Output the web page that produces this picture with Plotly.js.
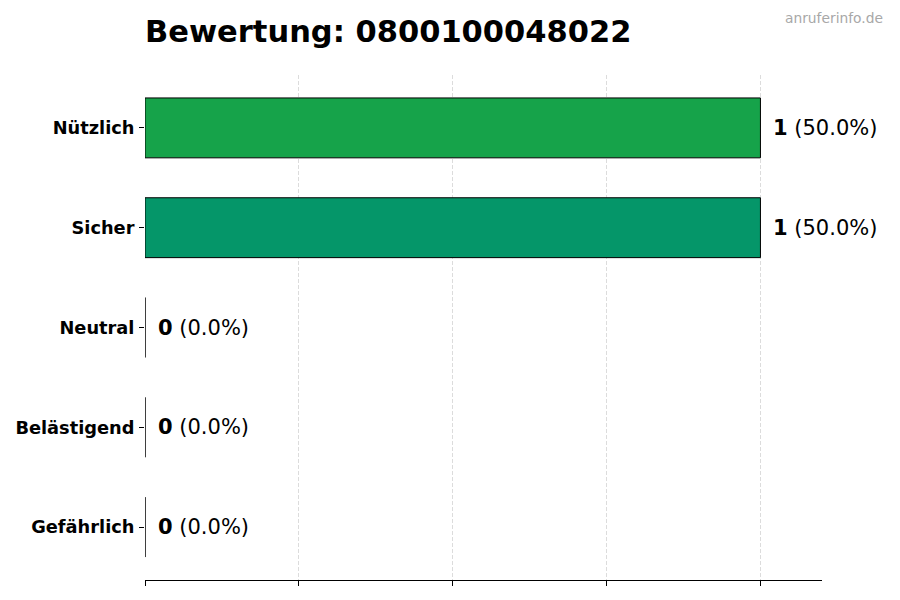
<!DOCTYPE html>
<html>
<head>
<meta charset="utf-8">
<script src="https://cdn.plot.ly/plotly-3.0.1.min.js"></script>
<style>html,body{margin:0;padding:0;background:#fff;}#chart{width:900px;height:600px;}</style>
</head>
<body>
<div id="chart"></div>
<script>
const categories = ["Nützlich", "Sicher", "Neutral", "Belästigend", "Gefährlich"];
const counts = [1, 1, 0, 0, 0];
const percents = [50.0, 50.0, 0.0, 0.0, 0.0];
const colors = ["#16a34a", "#059669", "#6b7280", "#f97316", "#dc2626"];
const xTicks = [0, 0.25, 0.5, 0.75, 1.0];
const titleText = "Bewertung: 0800100048022";
const watermark = "anruferinfo.de";

const font = "DejaVu Sans, sans-serif";

const trace = {
  type: "bar",
  orientation: "h",
  y: categories,
  x: counts,
  width: 0.6,
  marker: {color: colors, line: {color: "#000", width: 1}},
  hoverinfo: "skip"
};

const annotations = categories.map((c, i) => ({
  x: counts[i], y: c, xref: "x", yref: "y",
  xanchor: "left", yanchor: "middle", xshift: 11, showarrow: false,
  text: "<b>" + counts[i] + "</b> (" + percents[i].toFixed(1) + "%)",
  font: {family: font, size: 21, color: "#000"}
}));
annotations.push({
  x: 1, y: 1, xref: "paper", yref: "paper", xanchor: "right", yanchor: "middle",
  xshift: 63, yshift: 57, showarrow: false, text: watermark,
  font: {family: font, size: 13.8, color: "#a8a8a8"}
});

const layout = {
  width: 900, height: 600,
  margin: {l: 145, r: 78, t: 75, b: 20},
  paper_bgcolor: "#fff", plot_bgcolor: "#fff",
  showlegend: false,
  title: {text: "<b>" + titleText + "</b>", x: 145/900, xanchor: "left", y: 1 - 31/600, yanchor: "middle",
          font: {family: font, size: 30.5, color: "#000"}},
  xaxis: {
    range: [0, 1.1], tickvals: xTicks, showticklabels: false,
    ticks: "outside", ticklen: 5, tickcolor: "#000",
    showgrid: true, gridcolor: "#dcdcdc", griddash: "4px,2px", gridwidth: 1,
    zeroline: false, showline: true, linecolor: "#000", linewidth: 1, fixedrange: true
  },
  yaxis: {
    categoryorder: "array", categoryarray: categories.slice().reverse(),
    range: [-0.53, 4.53], ticks: "outside", ticklen: 5, tickcolor: "#000",
    ticklabelstandoff: 1,
    tickfont: {family: font, size: 17.8, color: "#000", weight: "bold"},
    showgrid: false, zeroline: false, showline: false, fixedrange: true
  },
  annotations: annotations
};

Plotly.newPlot("chart", [trace], layout, {displayModeBar: false, staticPlot: true});
</script>
</body>
</html>
